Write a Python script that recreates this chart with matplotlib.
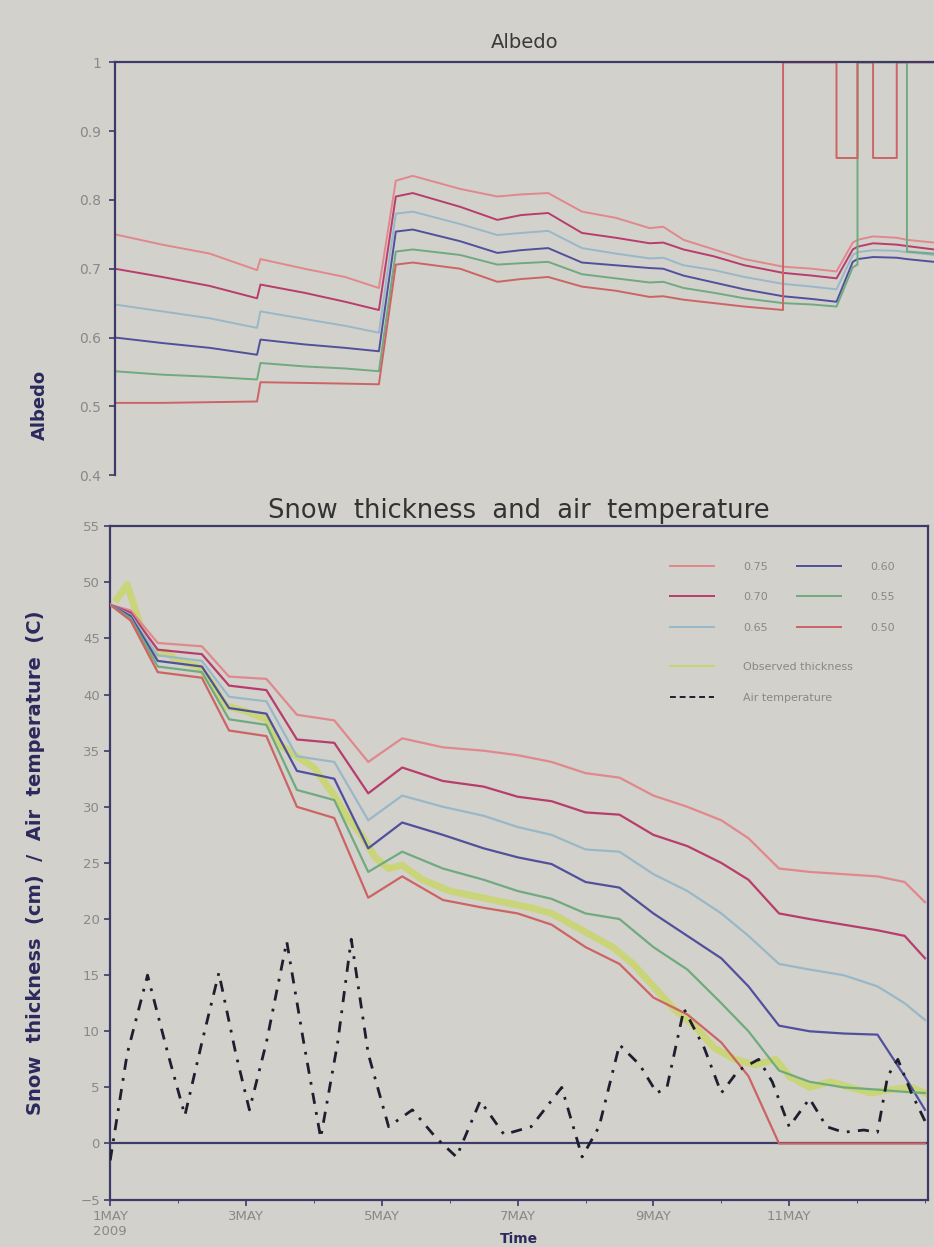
import matplotlib
matplotlib.use("Agg")
import matplotlib.pyplot as plt
from matplotlib.lines import Line2D

# ---- albedo panel (days since 1 May 2009) ----
alb_days = [0.0, 0.7, 1.4, 2.1, 2.15, 2.8, 3.4, 3.9, 4.15, 4.4, 5.1, 5.65, 6.0,
            6.4, 6.9, 7.4, 7.9, 8.1, 8.4, 8.85, 9.3, 9.87, 9.87, 10.3, 10.66,
            10.66, 10.9, 10.97, 10.97, 11.2, 11.2, 11.55, 11.55, 11.7, 11.7, 12.1]
alb_075 = [.750, .735, .722, .698, .714, .700, .688, .672, .828, .835, .816, .805, .808,
           .810, .783, .774, .759, .761, .742, .728, .714, .703, .703, .700, .696,
           .696, .738, .742, .742, .747, .747, .745, .745, .742, .742, .738]
alb_070 = [.700, .688, .675, .657, .677, .665, .652, .640, .805, .810, .790, .771, .778,
           .781, .752, .745, .737, .738, .728, .718, .705, .694, .694, .690, .686,
           .686, .728, .732, .732, .737, .737, .735, .735, .733, .733, .728]
alb_065 = [.648, .638, .628, .614, .638, .627, .617, .607, .780, .783, .765, .749, .752,
           .755, .730, .722, .715, .716, .705, .698, .688, .678, .678, .674, .670,
           .670, .720, .724, .724, .727, .727, .726, .726, .724, .724, .720]
alb_060 = [.600, .592, .585, .575, .597, .590, .585, .580, .754, .757, .740, .723, .727,
           .730, .709, .705, .701, .700, .690, .680, .670, .660, .660, .656, .652,
           .652, .710, .714, .714, .717, .717, .716, .716, .714, .714, .710]
alb_055 = [.551, .546, .543, .539, .563, .558, .555, .551, .725, .728, .720, .706, .708,
           .710, .692, .686, .680, .681, .672, .665, .657, .650, .650, .648, .645,
           .645, .702, .706, 1.0, 1.0, 1.0, 1.0, 1.0, 1.0, .725, .722]
alb_050 = [.505, .505, .506, .507, .535, .534, .533, .532, .706, .709, .700, .681, .685,
           .688, .674, .668, .659, .660, .655, .650, .645, .640, 1.0, 1.0, 1.0,
           .861, .861, .861, 1.0, 1.0, .861, .861, 1.0, 1.0, 1.0, 1.0]

# ---- snow thickness (cm) of the six albedo runs ----
th_days = [0.0, 0.3, 0.7, 1.35, 1.75, 2.3, 2.75, 3.3, 3.8, 4.3, 4.9, 5.5, 6.0,
           6.5, 7.0, 7.5, 8.0, 8.5, 9.0, 9.4, 9.85, 10.3, 10.8, 11.3, 11.7, 12.0]
th_075 = [48, 47.5, 44.6, 44.3, 41.6, 41.4, 38.2, 37.7, 34.0, 36.1, 35.3, 35.0, 34.6,
          34.0, 33.0, 32.6, 31.0, 30.0, 28.8, 27.2, 24.5, 24.2, 24.0, 23.8, 23.3, 21.5]
th_070 = [48, 47.3, 44.0, 43.6, 40.8, 40.4, 36.0, 35.7, 31.2, 33.5, 32.3, 31.8, 30.9,
          30.5, 29.5, 29.3, 27.5, 26.5, 25.0, 23.5, 20.5, 20.0, 19.5, 19.0, 18.5, 16.5]
th_065 = [48, 47.1, 43.5, 43.0, 39.8, 39.4, 34.5, 34.0, 28.8, 31.0, 30.0, 29.2, 28.2,
          27.5, 26.2, 26.0, 24.0, 22.5, 20.5, 18.5, 16.0, 15.5, 15.0, 14.0, 12.5, 11.0]
th_060 = [48, 47.0, 43.0, 42.5, 38.8, 38.3, 33.2, 32.5, 26.3, 28.6, 27.5, 26.3, 25.5,
          24.9, 23.3, 22.8, 20.5, 18.5, 16.5, 14.0, 10.5, 10.0, 9.8, 9.7, 6.0, 3.0]
th_055 = [48, 46.8, 42.5, 42.0, 37.8, 37.3, 31.5, 30.6, 24.2, 26.0, 24.5, 23.5, 22.5,
          21.8, 20.5, 20.0, 17.5, 15.5, 12.5, 10.0, 6.5, 5.5, 5.0, 4.8, 4.6, 4.5]
th_050 = [48, 46.6, 42.0, 41.5, 36.8, 36.3, 30.0, 29.0, 21.9, 23.8, 21.7, 21.0, 20.5,
          19.5, 17.5, 16.0, 13.0, 11.5, 9.0, 6.0, 0.0, 0.0, 0.0, 0.0, 0.0, 0.0]

# ---- observed thickness (cm) ----
obs_days = [0.1, 0.25, 0.4, 0.6, 0.8, 1.0, 1.3, 1.5, 1.7, 2.0, 2.3, 2.5, 2.75, 3.0,
            3.3, 3.5, 3.7, 3.9, 4.1, 4.3, 4.6, 5.0, 5.4, 5.8, 6.2, 6.5, 6.8, 7.1,
            7.4, 7.7, 8.0, 8.3, 8.6, 8.9, 9.2, 9.5, 9.8, 10.0, 10.3, 10.6, 10.9,
            11.2, 11.5, 11.8, 12.0]
obs_thick = [48.5, 49.8, 47.0, 43.5, 43.8, 43.0, 42.5, 41.0, 39.0, 38.5, 37.8, 35.5,
             34.5, 33.5, 31.0, 29.0, 27.5, 25.5, 24.5, 24.8, 23.5, 22.5, 22.0, 21.5,
             21.0, 20.5, 19.5, 18.5, 17.5, 16.0, 14.0, 12.0, 10.5, 8.5, 7.5, 7.0,
             7.5, 6.0, 5.0, 5.5, 5.0, 4.5, 4.8, 5.0, 4.5]

# ---- air temperature (C) ----
temp_days = [0.0, 0.25, 0.55, 0.85, 1.1, 1.35, 1.6, 1.85, 2.05, 2.3, 2.6, 2.85, 3.1,
             3.35, 3.55, 3.8, 4.1, 4.45, 4.8, 5.1, 5.45, 5.8, 6.2, 6.65, 6.95, 7.2,
             7.5, 7.8, 8.05, 8.2, 8.45, 8.75, 9.0, 9.25, 9.55, 9.75, 10.0, 10.3,
             10.55, 10.8, 11.1, 11.3, 11.45, 11.6, 11.8, 12.0]
air_temp = [-1.5, 8.0, 15.0, 8.0, 2.5, 9.0, 15.2, 8.0, 3.0, 9.0, 18.0, 9.0, 0.5,
            9.0, 18.2, 8.0, 1.5, 3.0, 0.5, -1.2, 3.8, 0.8, 1.5, 5.0, -1.2, 1.5,
            8.8, 7.0, 4.5, 5.0, 12.0, 8.5, 4.5, 6.5, 7.5, 5.5, 1.5, 4.0,
            1.5, 1.0, 1.2, 1.0, 6.0, 7.5, 4.5, 2.0]

labels = ["0.75", "0.70", "0.65", "0.60", "0.55", "0.50"]
colors = ["#e0888c", "#b83c6c", "#98b8c8", "#50509c", "#70aa80", "#cc6464"]
tick_days = [0, 2, 4, 6, 8, 10]
tick_names = ["1MAY\n2009", "3MAY", "5MAY", "7MAY", "9MAY", "11MAY"]

bg = "#d3d1cc"
spine_c = "#3c3a66"
tick_c = "#8a8888"
lab_c = "#2c2a5c"
obs_c = "#c8d66a"
temp_c = "#1e1e2e"

fig = plt.figure(figsize=(9.34, 12.47), dpi=100, facecolor=bg)

# top: albedo
ax1 = fig.add_axes([0.123, 0.619, 0.877, 0.331], facecolor=bg)
for vals, c in zip([alb_075, alb_070, alb_065, alb_060, alb_055, alb_050], colors):
    ax1.plot(alb_days, vals, color=c, lw=1.4, solid_joinstyle="round")
ax1.set_xlim(0, 12.1)
ax1.set_ylim(0.4, 1.0)
ax1.set_yticks([0.4, 0.5, 0.6, 0.7, 0.8, 0.9, 1.0])
ax1.set_yticklabels(["0.4", "0.5", "0.6", "0.7", "0.8", "0.9", "1"])
ax1.set_xticks([])
ax1.spines["bottom"].set_visible(False)
ax1.spines["right"].set_visible(False)
for s in ("left", "top"):
    ax1.spines[s].set_color(spine_c)
    ax1.spines[s].set_linewidth(1.6)
ax1.tick_params(axis="y", colors=spine_c, labelcolor=tick_c, labelsize=10,
                length=4, width=1.2, pad=6)
ax1.set_title("Albedo", fontsize=14, color="#3a3a3a", pad=10)
ax1.set_ylabel("Albedo", fontsize=13, color=lab_c, fontweight="bold")
ax1.yaxis.set_label_coords(-0.08, 0.17)

# bottom: snow thickness and air temperature
ax2 = fig.add_axes([0.118, 0.038, 0.876, 0.540], facecolor=bg)
ax2.axhline(0, color=spine_c, lw=1.6, zorder=1)
ax2.plot(obs_days, obs_thick, color=obs_c, lw=5, alpha=0.85, zorder=2,
         solid_joinstyle="round")
for vals, c in zip([th_075, th_070, th_065, th_060, th_055, th_050], colors):
    ax2.plot(th_days, vals, color=c, lw=1.6, zorder=3, solid_joinstyle="round")
ax2.plot(temp_days, air_temp, color=temp_c, lw=2.0, ls=(0, (4, 3, 1, 3)), zorder=4)
ax2.set_xlim(0, 12.05)
ax2.set_ylim(-5, 55)
ax2.set_yticks(range(-5, 56, 5))
ax2.set_xticks(tick_days)
ax2.set_xticklabels(tick_names)
ax2.set_xticks(range(0, 13), minor=True)
for s in ax2.spines.values():
    s.set_color(spine_c)
    s.set_linewidth(1.6)
ax2.tick_params(axis="both", colors=spine_c, labelcolor=tick_c, labelsize=9.5,
                length=4, width=1.2)
ax2.tick_params(axis="x", which="minor", colors=spine_c, length=2)
ax2.set_title("Snow  thickness  and  air  temperature", fontsize=18.5,
              color="#333333", pad=6)
ax2.set_ylabel("Snow  thickness  (cm)  /  Air  temperature  (C)", fontsize=14,
               color=lab_c, fontweight="bold")
ax2.yaxis.set_label_coords(-0.08, 0.5)
ax2.set_xlabel("Time", fontsize=10, color=lab_c, fontweight="bold", labelpad=-4)

handles = [Line2D([], [], color=c, lw=1.4) for c in colors]
leg1 = ax2.legend(handles, labels, ncol=2, loc="upper left",
                  bbox_to_anchor=(0.672, 0.962), frameon=False, fontsize=8,
                  handlelength=4.0, handletextpad=2.6, labelspacing=1.85,
                  columnspacing=2.6, labelcolor=tick_c)
ax2.add_artist(leg1)
extra = [Line2D([], [], color=obs_c, lw=1.4),
         Line2D([], [], color=temp_c, lw=1.4, ls=(0, (3, 2)))]
ax2.legend(extra, ["Observed thickness", "Air temperature"], loc="upper left",
           bbox_to_anchor=(0.672, 0.813), frameon=False, fontsize=8,
           handlelength=4.0, handletextpad=2.6, labelspacing=1.85,
           labelcolor=tick_c)

fig.savefig("out.png", dpi=100, facecolor=bg)
